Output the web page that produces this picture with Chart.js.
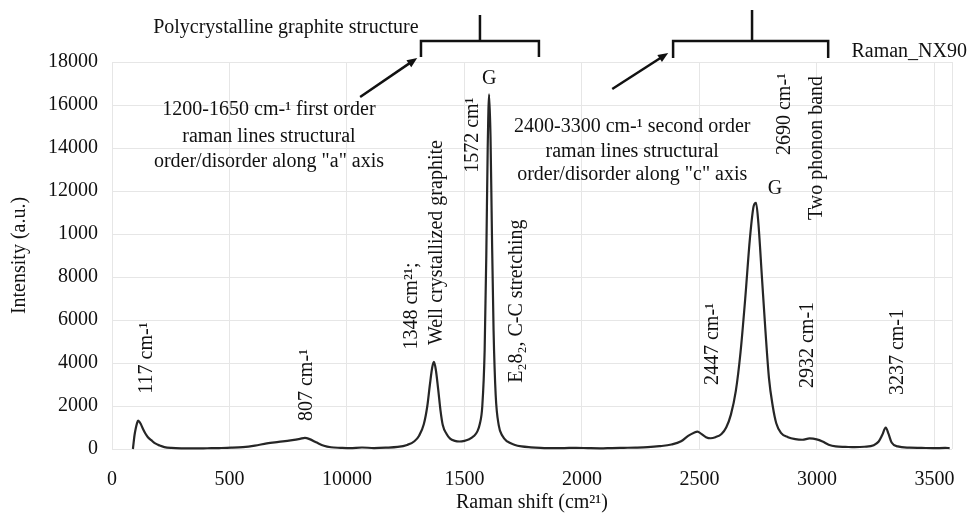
<!DOCTYPE html>
<html>
<head>
<meta charset="utf-8">
<script src="https://cdn.jsdelivr.net/npm/chart.js@4.4.1/dist/chart.umd.min.js"></script>
<style>
  body { margin: 0; background: #fff; }
  #wrap { width: 971px; height: 515px; }
</style>
</head>
<body>
<div id="wrap"><canvas id="grafico" width="971" height="515"></canvas></div>
<script>
// spectrum (Raman shift, intensity)
const ramanShift = [89, 96, 101, 106, 111, 117, 122, 132, 142, 152, 167, 182, 203, 223, 253, 304, 355, 405, 456, 507,
  557, 608, 659, 709, 760, 800, 821, 841, 871, 902, 932, 973, 1013, 1064, 1115, 1165, 1216, 1256, 1287, 1307,
  1327, 1342, 1353, 1363, 1370, 1378, 1388, 1398, 1408, 1424, 1439, 1459, 1479, 1500, 1520, 1540, 1555, 1565, 1576, 1586,
  1593, 1599, 1605, 1611, 1617, 1624, 1633, 1646, 1662, 1682, 1712, 1743, 1783, 1824, 1874, 1925, 1976, 2026, 2077, 2128,
  2178, 2229, 2280, 2330, 2381, 2422, 2452, 2477, 2492, 2508, 2528, 2548, 2568, 2594, 2614, 2634, 2655, 2675, 2695, 2715,
  2731, 2741, 2751, 2766, 2781, 2796, 2812, 2827, 2847, 2877, 2908, 2938, 2969, 2999, 3024, 3050, 3080, 3121, 3161, 3202,
  3242, 3263, 3278, 3293, 3305, 3318, 3344, 3394, 3445, 3496, 3546, 3565];
const intensity = [0, 650, 950, 1180, 1320, 1260, 1170, 930, 720, 560, 410, 270, 160, 90, 50, 30, 25, 35, 45, 60,
  90, 160, 260, 330, 400, 470, 520, 460, 300, 150, 80, 55, 40, 70, 45, 60, 95, 190, 360, 620,
  1150, 2000, 3000, 3800, 4050, 3700, 2800, 1800, 1100, 700, 480, 380, 350, 380, 450, 600, 820, 1150, 2000, 4600,
  9000, 14000, 16500, 14500, 10000, 5500, 2500, 1100, 600, 350, 200, 120, 80, 55, 40, 45, 55, 40, 30, 45,
  55, 65, 85, 130, 210, 360, 610, 760, 810, 700, 550, 500, 550, 700, 1000, 1600, 2700, 4500, 7000, 9800,
  11300, 11450, 10500, 8000, 5500, 3300, 2000, 1200, 750, 550, 460, 430, 490, 450, 350, 200, 120, 100, 85, 105,
  180, 350, 650, 1000, 700, 300, 120, 60, 50, 40, 50, 45];

const yTickValues = [0, 2000, 4000, 6000, 8000, 10000, 12000, 14000, 16000, 18000];
const yTickLabels = ['0', '2000', '4000', '6000', '8000', '1000', '12000', '14000', '16000', '18000'];
const xTickValues = [0, 500, 1000, 1500, 2000, 2500, 3000, 3500, 3575];
const xTickLabels = ['0', '500', '10000', '1500', '2000', '2500', '3000', '3500', ''];

// text notes: [text, x, y, rotated]
const notas = [
  ['Polycrystalline graphite structure', 740, 19580, false],
  ['Raman_NX90', 3393, 18465, false],
  ['1200-1650 cm-\u00b9 first order', 668, 15767, false],
  ['raman lines structural', 668, 14511, false],
  ['order/disorder along "a" axis', 668, 13348, false],
  ['2400-3300 cm-\u00b9 second order', 2214, 14976, false],
  ['raman lines structural', 2214, 13813, false],
  ['order/disorder along "c" axis', 2214, 12744, false],
  ['G', 1605, 17209, false],
  ['G', 2822, 12093, false],
  ['117 cm-\u00b9', 150, 4232, true],
  ['807 cm-\u00b9', 830, 2977, true],
  ['1348 cm\u00b2\u00b9;', 1276, 6650, true],
  ['Well crystallized graphite', 1383, 9600, true],
  ['1572 cm\u00b9', 1537, 14600, true],
  ['E\u20828\u2082, C-C stretching', 1724, 6880, true],
  ['2447 cm-\u00b9', 2555, 4884, true],
  ['2932 cm-1', 2962, 4837, true],
  ['3237 cm-1', 3346, 4511, true],
  ['2690 cm-\u00b9', 2865, 15581, true],
  ['Two phonon band', 3001, 14000, true]
];

// brackets: [xLeft, xMid, xRight, yBar, yEnd, yTop]
const chaves = [
  [1315, 1566, 1817, 18976, 18232, 20185],
  [2388, 2724, 3048, 18976, 18185, 20418]
];
// arrows: [xFrom, yFrom, xTo, yTo]
const setas = [
  [1056, 16372, 1299, 18185],
  [2129, 16744, 2367, 18418]
];

const anotacoes = {
  id: 'anotacoes',
  afterDraw(chart) {
    const ctx = chart.ctx;
    const xs = chart.scales.x;
    const ys = chart.scales.y;
    ctx.save();
    ctx.fillStyle = '#111';
    ctx.strokeStyle = '#111';
    ctx.font = '20px "Liberation Serif", "DejaVu Serif", serif';
    ctx.textAlign = 'center';
    ctx.textBaseline = 'middle';
    notas.forEach(n => {
      const px = xs.getPixelForValue(n[1]);
      const py = ys.getPixelForValue(n[2]);
      ctx.save();
      ctx.translate(px, py);
      if (n[3]) ctx.rotate(-Math.PI / 2);
      ctx.fillText(n[0], 0, 0);
      ctx.restore();
    });

    ctx.lineWidth = 2.5;
    chaves.forEach(c => {
      const xl = xs.getPixelForValue(c[0]);
      const xm = xs.getPixelForValue(c[1]);
      const xr = xs.getPixelForValue(c[2]);
      const yb = ys.getPixelForValue(c[3]);
      const ye = ys.getPixelForValue(c[4]);
      const yt = ys.getPixelForValue(c[5]);
      ctx.beginPath();
      ctx.moveTo(xl, ye);
      ctx.lineTo(xl, yb);
      ctx.lineTo(xr, yb);
      ctx.lineTo(xr, ye);
      ctx.moveTo(xm, yb);
      ctx.lineTo(xm, yt);
      ctx.stroke();
    });

    setas.forEach(s => {
      const x1 = xs.getPixelForValue(s[0]);
      const y1 = ys.getPixelForValue(s[1]);
      const x2 = xs.getPixelForValue(s[2]);
      const y2 = ys.getPixelForValue(s[3]);
      const ang = Math.atan2(y2 - y1, x2 - x1);
      ctx.beginPath();
      ctx.moveTo(x1, y1);
      ctx.lineTo(x2 - 6 * Math.cos(ang), y2 - 6 * Math.sin(ang));
      ctx.stroke();
      ctx.beginPath();
      ctx.moveTo(x2, y2);
      ctx.lineTo(x2 - 11 * Math.cos(ang - 0.4), y2 - 11 * Math.sin(ang - 0.4));
      ctx.lineTo(x2 - 11 * Math.cos(ang + 0.4), y2 - 11 * Math.sin(ang + 0.4));
      ctx.closePath();
      ctx.fill();
    });
    ctx.restore();
  }
};

const fonte = { family: '"Liberation Serif", "DejaVu Serif", serif', size: 20 };

new Chart(document.getElementById('grafico'), {
  type: 'line',
  data: {
    datasets: [{
      label: 'Raman_NX90',
      data: ramanShift.map((x, i) => ({ x, y: intensity[i] })),
      borderColor: '#262626',
      borderWidth: 2.2,
      pointRadius: 0,
      cubicInterpolationMode: 'monotone',
      fill: false
    }]
  },
  options: {
    responsive: false,
    animation: false,
    clip: false,
    layout: { padding: { top: 62, right: 19, left: 0, bottom: 0 } },
    plugins: { legend: { display: false }, tooltip: { enabled: false } },
    scales: {
      x: {
        type: 'linear',
        min: 0,
        max: 3575,
        afterBuildTicks: s => { s.ticks = xTickValues.map(v => ({ value: v })); },
        afterFit: s => { s.height = 66; },
        grid: { color: '#e6e6e6', drawTicks: false },
        border: { display: false },
        ticks: {
          padding: 19,
          color: '#111',
          font: fonte,
          maxRotation: 0,
          autoSkip: false,
          callback: v => xTickLabels[xTickValues.indexOf(v)]
        },
        title: { display: true, text: 'Raman shift (cm\u00b2\u00b9)', color: '#111', font: fonte, padding: { top: 0, bottom: 0 } }
      },
      y: {
        min: 0,
        max: 18000,
        afterBuildTicks: s => { s.ticks = yTickValues.map(v => ({ value: v })); },
        afterFit: s => { s.width = 112; },
        grid: { color: '#e6e6e6', drawTicks: false },
        border: { display: false },
        ticks: {
          padding: 14,
          color: '#111',
          font: fonte,
          callback: v => yTickLabels[yTickValues.indexOf(v)]
        },
        title: { display: true, text: 'Intensity (a.u.)', color: '#111', font: fonte, padding: { top: 8, bottom: 0 } }
      }
    }
  },
  plugins: [anotacoes]
});
</script>
</body>
</html>
